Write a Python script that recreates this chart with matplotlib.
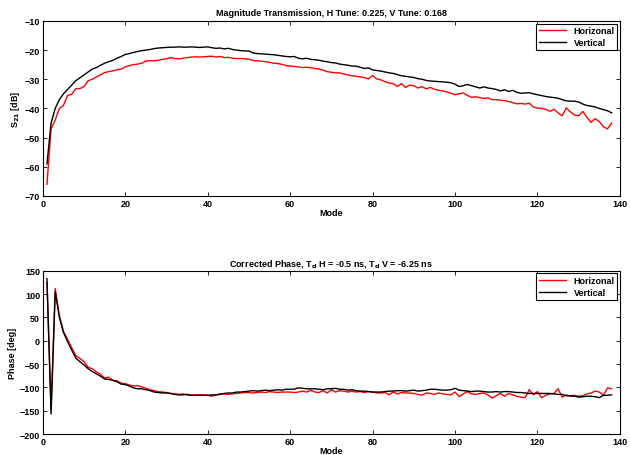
import matplotlib
matplotlib.use("Agg")
import matplotlib.pyplot as plt
import numpy as np

plt.rcParams['font.family'] = ['Liberation Sans', 'DejaVu Sans']
plt.rcParams['font.weight'] = 'bold'
plt.rcParams['axes.labelweight'] = 'bold'
plt.rcParams['font.size'] = 6.5
plt.rcParams['mathtext.default'] = 'bf'

mode = np.arange(1, 139)

# magnitude transmission [dB]
mag_h = [-66, -47, -44, -40, -39, -35.5, -35.2, -33.2, -33.2, -32.5,
         -30.5, -30, -29.2, -28.5, -27.7, -27.4, -27.1, -26.8, -26.5, -25.8,
         -25.3, -25, -24.8, -24.5, -23.8, -23.6, -23.7, -23.5, -23.2, -23,
         -22.6, -22.9, -23, -22.8, -22.6, -22.4, -22.3, -22.4, -22.3, -22.2,
         -22.1, -22.4, -22.2, -22.6, -22.5, -22.8, -22.9, -22.9, -23, -23.1,
         -23.6, -23.7, -23.8, -24, -24.2, -24.5, -24.6, -24.9, -25.3, -25.5,
         -25.6, -25.8, -26, -25.9, -26.1, -26.3, -26.5, -26.9, -27.4, -27.6,
         -27.8, -27.8, -28.2, -28.5, -28.8, -29, -29.2, -29.4, -29.9, -28.7,
         -29.9, -30.2, -30.8, -31.3, -31.5, -32.5, -31.5, -32.8, -32, -32.2,
         -33, -32.5, -33.3, -32.8, -33.4, -33.8, -34, -34.3, -34.8, -35.3,
         -35, -34.7, -35.5, -36.2, -36, -36.3, -36.6, -36.4, -37, -37,
         -37.2, -37.3, -37.6, -38, -38.4, -38.3, -38.5, -38.2, -39.5, -39.9,
         -40, -40.3, -41, -40.3, -41.5, -42.5, -39.8, -41.2, -42.3, -42.5,
         -41, -43, -44.8, -43.5, -44.5, -46.3, -47, -45]
mag_v = [-59, -45, -40, -37, -35, -33.5, -32, -30.5, -29.5, -28.5,
         -27.5, -26.5, -26, -25.2, -24.5, -24, -23.5, -22.8, -22.2, -21.5,
         -21.2, -20.8, -20.5, -20.2, -20, -19.8, -19.5, -19.3, -19.2, -19.1,
         -19, -19, -18.9, -19, -19, -18.9, -19, -19.1, -19, -18.9,
         -19.2, -19.4, -19.3, -19.6, -19.4, -19.8, -20, -20.2, -20.3, -20.3,
         -21, -21.2, -21.3, -21.4, -21.5, -21.6, -21.8, -22, -22.2, -22.3,
         -22.2, -22.8, -23, -22.8, -23.2, -23.3, -23.5, -23.8, -24, -24.3,
         -24.4, -24.8, -25, -25.2, -25.5, -25.5, -25.9, -26.3, -26.1, -26.8,
         -27, -27.2, -27.5, -27.8, -28, -28.4, -28.8, -29, -29.2, -29.4,
         -29.8, -30, -30.4, -30.6, -30.7, -30.8, -30.9, -31, -31.2, -31.7,
         -32.5, -32.2, -31.8, -32.2, -32.6, -33, -32.6, -33, -33.2, -33.5,
         -34, -33.6, -34.2, -33.8, -34.5, -34.8, -34.7, -34.6, -35, -35.3,
         -35.6, -35.9, -36.1, -36.3, -36.5, -37, -37.4, -37.5, -37.5, -37.8,
         -38.5, -39, -39.2, -39.5, -40, -40.4, -40.8, -41.5]

# corrected phase [deg]
ph_h = [125, -145, 112, 55, 20, 3, -15, -32, -38, -45,
        -57, -60, -67, -72, -80, -78, -85, -86, -91, -92,
        -95, -97, -96, -99, -102, -105, -107, -109, -110, -111,
        -113, -114, -115, -114, -116, -117, -116, -116, -116, -117,
        -119, -116, -114, -114, -115, -114, -113, -112, -111, -111,
        -112, -111, -110, -111, -109, -110, -111, -110, -110, -110,
        -111, -110, -108, -110, -106, -110, -111, -107, -112, -105,
        -110, -107, -108, -110, -108, -110, -109, -111, -109, -110,
        -112, -112, -111, -116, -110, -114, -111, -112, -112, -113,
        -115, -117, -112, -113, -115, -112, -114, -115, -116, -110,
        -120, -114, -109, -114, -115, -113, -112, -116, -123, -118,
        -113, -119, -113, -116, -119, -121, -122, -105, -116, -109,
        -122, -117, -114, -113, -103, -121, -116, -119, -117, -119,
        -118, -114, -112, -108, -110, -117, -101, -103]
ph_v = [133, -157, 105, 50, 18, -2, -20, -37, -45, -52,
        -60, -66, -71, -76, -82, -83, -85, -88, -93, -94,
        -97, -101, -103, -103, -105, -107, -110, -111, -112, -112,
        -113, -115, -116, -116, -115, -117, -117, -117, -117, -117,
        -116, -116, -115, -113, -112, -112, -110, -110, -109, -108,
        -107, -108, -107, -106, -107, -106, -105, -106, -104, -104,
        -104, -101, -102, -103, -103, -103, -104, -105, -103, -103,
        -102, -104, -104, -106, -105, -107, -108, -108, -109, -110,
        -110, -110, -109, -108, -108, -107, -107, -108, -107, -106,
        -108, -107, -106, -104, -104, -105, -106, -106, -105, -102,
        -106, -107, -108, -109, -108, -108, -109, -110, -110, -109,
        -110, -109, -109, -110, -111, -111, -112, -113, -113, -113,
        -113, -113, -113, -114, -115, -115, -118, -118, -119, -121,
        -120, -119, -119, -120, -122, -117, -117, -116]

fig = plt.figure(figsize=(6.3, 4.56), dpi=100)
ax1 = fig.add_axes([0.068, 0.568, 0.916, 0.384])
ax2 = fig.add_axes([0.068, 0.046, 0.916, 0.358])


def style(ax):
    ax.tick_params(direction='in', top=True, right=True, length=3, width=0.6, pad=2)
    for s in ax.spines.values():
        s.set_linewidth(0.8)
    ax.set_xlim(0, 140)
    ax.set_xticks(range(0, 141, 20))
    leg = ax.legend(loc='upper right', fancybox=False, framealpha=1,
                    borderpad=0.3, handlelength=3, labelspacing=0.3,
                    borderaxespad=0.3)
    leg.get_frame().set_edgecolor('black')
    leg.get_frame().set_linewidth(0.8)


ax1.plot(mode, mag_h, color='red', lw=1.0, label='Horizonal')
ax1.plot(mode, mag_v, color='black', lw=1.0, label='Vertical')
ax1.set_ylim(-70, -10)
ax1.set_yticks(range(-70, -9, 10))
ax1.set_title('Magnitude Transmission, H Tune: 0.225, V Tune: 0.168', fontsize=6.5, fontweight='bold', pad=4)
ax1.set_xlabel('Mode', labelpad=0)
ax1.set_ylabel('S$_{21}$ [dB]', labelpad=2)
style(ax1)

ax2.plot(mode, ph_h, color='red', lw=1.0, label='Horizonal')
ax2.plot(mode, ph_v, color='black', lw=1.0, label='Vertical')
ax2.set_ylim(-200, 150)
ax2.set_yticks(range(-200, 151, 50))
ax2.set_title('Corrected Phase, T$_d$ H = -0.5 ns, T$_d$ V = -6.25 ns', fontsize=6.5, fontweight='bold', pad=4)
ax2.set_xlabel('Mode', labelpad=0)
ax2.set_ylabel('Phase [deg]', labelpad=2)
style(ax2)

fig.savefig('out.png', dpi=100)
